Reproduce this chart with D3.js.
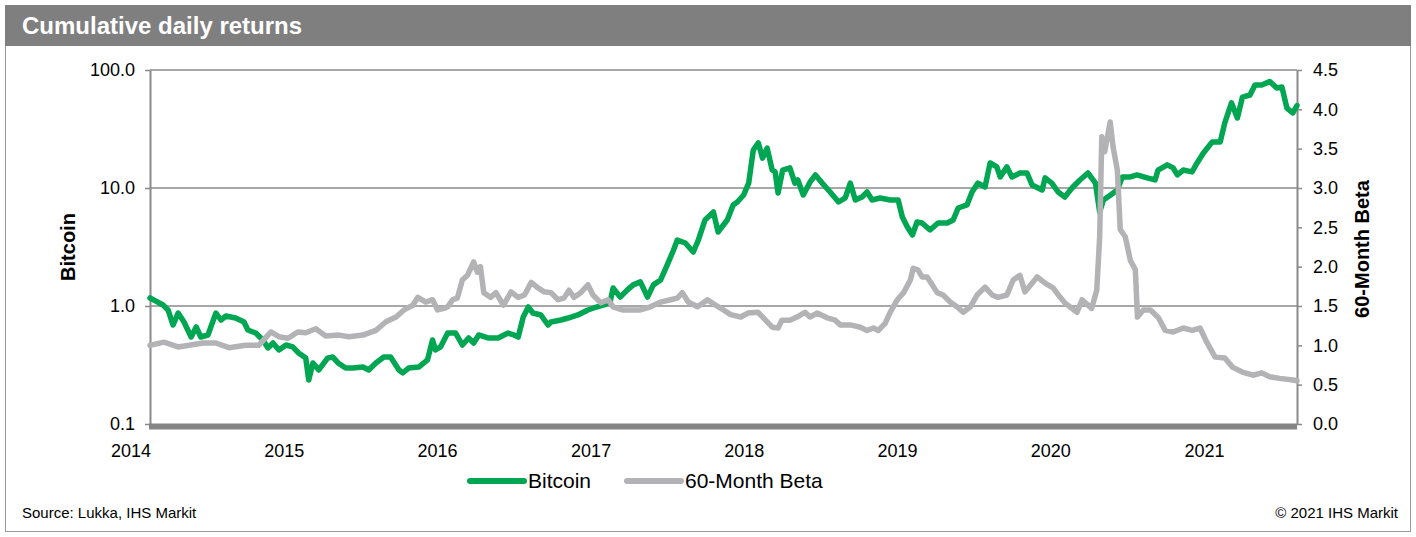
<!DOCTYPE html>
<html>
<head>
<meta charset="utf-8">
<script src="https://cdn.jsdelivr.net/npm/d3@7"></script>
<style>
body { margin: 0; background: #fff; font-family: "Liberation Sans", Arial, sans-serif; }
</style>
</head>
<body>
<div id="chart"></div>
<script>
// Bitcoin cumulative return (left, log axis)
const btcDates = [
  "2014-01-01","2014-01-15","2014-02-01","2014-02-13","2014-02-25","2014-03-09","2014-03-23","2014-04-09","2014-04-21","2014-05-02",
  "2014-05-19","2014-06-07","2014-06-19","2014-07-01","2014-07-24","2014-08-13","2014-08-22","2014-09-10","2014-09-27","2014-10-09",
  "2014-10-21","2014-11-04","2014-11-21","2014-12-07","2014-12-21","2015-01-07","2015-01-14","2015-01-24","2015-02-07","2015-02-28",
  "2015-03-12","2015-03-25","2015-04-12","2015-04-29","2015-05-23","2015-06-06","2015-06-23","2015-07-12","2015-07-28","2015-08-17",
  "2015-08-26","2015-09-09","2015-10-03","2015-10-24","2015-11-05","2015-11-12","2015-11-24","2015-12-11","2015-12-30","2016-01-15",
  "2016-01-30","2016-02-11","2016-02-23","2016-03-16","2016-04-09","2016-05-03","2016-05-17","2016-05-27","2016-06-08","2016-06-20",
  "2016-07-01","2016-07-20","2016-08-06","2016-08-13","2016-09-06","2016-09-23","2016-10-16","2016-11-09","2016-11-23","2016-12-17",
  "2017-01-01","2017-01-08","2017-01-25","2017-02-11","2017-02-25","2017-03-14","2017-03-31","2017-04-14","2017-05-01","2017-05-17",
  "2017-06-01","2017-06-10","2017-06-29","2017-07-18","2017-07-30","2017-08-15","2017-09-04","2017-09-15","2017-10-07","2017-10-21",
  "2017-10-31","2017-11-15","2017-11-27","2017-12-08","2017-12-20","2017-12-30","2018-01-10","2018-01-22","2018-01-29","2018-02-05",
  "2018-02-16","2018-03-05","2018-03-17","2018-03-24","2018-04-06","2018-04-22","2018-05-05","2018-05-21","2018-06-09","2018-06-29",
  "2018-07-15","2018-07-27","2018-08-08","2018-08-24","2018-09-05","2018-09-17","2018-10-06","2018-10-30","2018-11-18","2018-11-28",
  "2018-12-10","2018-12-22","2019-01-02","2019-01-14","2019-02-02","2019-02-21","2019-03-15","2019-03-29","2019-04-10","2019-05-01",
  "2019-05-13","2019-05-27","2019-06-13","2019-06-25","2019-07-11","2019-07-19","2019-08-04","2019-08-16","2019-09-04","2019-09-21",
  "2019-10-03","2019-10-27","2019-11-03","2019-11-19","2019-12-04","2019-12-20","2020-01-06","2020-01-25","2020-02-13","2020-03-02",
  "2020-03-12","2020-03-21","2020-04-07","2020-04-23","2020-05-05","2020-05-24","2020-06-09","2020-07-03","2020-07-22","2020-07-29",
  "2020-08-20","2020-09-03","2020-09-13","2020-09-27","2020-10-18","2020-10-30","2020-11-14","2020-12-05","2020-12-24","2021-01-04",
  "2021-01-20","2021-02-03","2021-02-15","2021-03-05","2021-03-17","2021-04-02","2021-04-21","2021-05-08","2021-05-20","2021-06-01",
  "2021-06-15","2021-06-25"
];
const btcValues = [
  1.17, 1.10, 1.02, 0.925, 0.69, 0.872, 0.732, 0.546, 0.664, 0.546,
  0.568, 0.872, 0.761, 0.823, 0.791, 0.732, 0.626, 0.590, 0.515, 0.441,
  0.486, 0.424, 0.467, 0.450, 0.400, 0.362, 0.236, 0.329, 0.287, 0.362,
  0.370, 0.329, 0.298, 0.298, 0.304, 0.287, 0.329, 0.370, 0.370, 0.287,
  0.271, 0.298, 0.304, 0.349, 0.515, 0.424, 0.450, 0.590, 0.590, 0.467,
  0.536, 0.486, 0.568, 0.536, 0.536, 0.590, 0.568, 0.546, 0.807, 0.981,
  0.872, 0.839, 0.690, 0.732, 0.761, 0.791, 0.839, 0.925, 0.962, 1.02,
  1.08, 1.42, 1.19, 1.37, 1.51, 1.60, 1.19, 1.51, 1.66, 2.23,
  2.98, 3.62, 3.42, 2.87, 3.62, 5.36, 6.26, 4.24, 5.36, 7.18,
  7.61, 8.72, 11.0, 21.0, 24.1, 17.9, 21.8, 14.2, 13.7, 9.07,
  14.2, 14.8, 11.0, 11.7, 8.72, 11.2, 12.9, 11.0, 9.25, 7.61,
  8.23, 11.0, 7.91, 8.39, 9.25, 7.91, 8.23, 7.91, 7.91, 5.68,
  4.67, 4.00, 5.15, 5.05, 4.41, 5.05, 5.05, 5.36, 6.77, 7.18,
  9.25, 11.0, 10.2, 16.3, 15.1, 12.4, 15.1, 12.4, 13.4, 13.4,
  10.6, 9.62, 12.2, 11.0, 9.25, 8.39, 10.0, 11.7, 13.4, 11.0,
  6.26, 7.91, 8.72, 9.62, 12.4, 12.4, 12.9, 12.2, 11.7, 14.2,
  15.7, 14.8, 12.9, 14.2, 13.7, 16.3, 19.8, 24.5, 24.5, 35.6,
  52.6, 39.2, 59.0, 61.4, 74.6, 74.6, 80.0, 70.3, 71.8, 47.6,
  43.2, 50.0
];

// 60-month beta (right axis)
const betaDates = [
  "2014-01-01","2014-02-03","2014-03-09","2014-04-04","2014-05-07","2014-06-07","2014-07-08","2014-08-17","2014-09-17","2014-10-16",
  "2014-11-04","2014-11-26","2014-12-19","2015-01-07","2015-01-31","2015-02-23","2015-03-27","2015-04-20","2015-05-23","2015-06-23",
  "2015-07-17","2015-08-10","2015-08-29","2015-09-19","2015-10-01","2015-10-20","2015-11-05","2015-11-17","2015-12-02","2015-12-11",
  "2015-12-23","2016-01-03","2016-01-15","2016-01-27","2016-02-11","2016-02-20","2016-02-27","2016-03-06","2016-03-22","2016-04-04",
  "2016-04-22","2016-05-10","2016-05-27","2016-06-11","2016-06-27","2016-07-13","2016-07-28","2016-08-13","2016-08-30","2016-09-13",
  "2016-09-25","2016-10-07","2016-10-23","2016-11-09","2016-11-21","2016-12-10","2016-12-27","2017-01-08","2017-01-30","2017-02-18",
  "2017-03-14","2017-04-07","2017-05-01","2017-05-25","2017-06-10","2017-06-22","2017-07-06","2017-07-28","2017-08-21","2017-09-09",
  "2017-09-28","2017-10-15","2017-11-08","2017-11-25","2017-12-19","2018-01-01","2018-01-22","2018-02-05","2018-02-14","2018-03-05",
  "2018-03-22","2018-04-10","2018-04-22","2018-05-09","2018-06-02","2018-06-21","2018-07-03","2018-07-27","2018-08-20","2018-09-05",
  "2018-09-20","2018-10-02","2018-10-18","2018-10-30","2018-11-16","2018-12-01","2018-12-17","2018-12-24","2019-01-04","2019-01-14",
  "2019-01-26","2019-02-07","2019-02-19","2019-03-05","2019-03-22","2019-04-07","2019-04-22","2019-05-09","2019-05-25","2019-06-13",
  "2019-06-30","2019-07-14","2019-08-04","2019-08-19","2019-09-04","2019-09-16","2019-10-03","2019-10-15","2019-11-03","2019-11-22",
  "2019-12-09","2019-12-20","2020-01-18","2020-01-30","2020-02-22","2020-03-05","2020-03-12","2020-03-17","2020-03-24","2020-04-06",
  "2020-04-13","2020-04-23","2020-04-30","2020-05-12","2020-05-24","2020-06-05","2020-06-10","2020-06-24","2020-07-11","2020-07-30",
  "2020-08-15","2020-09-03","2020-09-27","2020-10-18","2020-11-06","2020-11-23","2020-12-12","2021-01-04","2021-01-23","2021-02-15",
  "2021-03-12","2021-04-02","2021-04-21","2021-05-15","2021-06-15","2021-06-25"
];
const betaValues = [
  1.00, 1.04, 0.98, 1.00, 1.03, 1.03, 0.97, 1.00, 1.00, 1.17,
  1.11, 1.09, 1.17, 1.16, 1.21, 1.12, 1.13, 1.11, 1.13, 1.19,
  1.30, 1.36, 1.45, 1.51, 1.61, 1.55, 1.58, 1.45, 1.47, 1.49,
  1.58, 1.60, 1.83, 1.89, 2.06, 1.93, 2.00, 1.67, 1.61, 1.67,
  1.51, 1.68, 1.61, 1.64, 1.80, 1.73, 1.68, 1.67, 1.58, 1.60,
  1.70, 1.61, 1.67, 1.77, 1.64, 1.54, 1.58, 1.49, 1.45, 1.45,
  1.45, 1.49, 1.55, 1.58, 1.60, 1.67, 1.55, 1.49, 1.58, 1.51,
  1.45, 1.39, 1.36, 1.41, 1.42, 1.35, 1.23, 1.22, 1.32, 1.32,
  1.36, 1.42, 1.36, 1.41, 1.35, 1.32, 1.26, 1.26, 1.23, 1.19,
  1.22, 1.19, 1.28, 1.42, 1.58, 1.67, 1.83, 1.98, 1.96, 1.87,
  1.87, 1.77, 1.67, 1.64, 1.55, 1.49, 1.42, 1.49, 1.64, 1.74,
  1.64, 1.61, 1.64, 1.83, 1.89, 1.68, 1.79, 1.87, 1.79, 1.73,
  1.61, 1.54, 1.42, 1.58, 1.47, 1.70, 2.38, 3.65, 3.46, 3.84,
  3.52, 3.23, 2.47, 2.38, 2.08, 1.96, 1.36, 1.45, 1.45, 1.35,
  1.19, 1.17, 1.22, 1.19, 1.22, 1.03, 0.85, 0.84, 0.72, 0.66,
  0.62, 0.65, 0.60, 0.58, 0.56, 0.55
];

const leftTicks = [0.1, 1, 10, 100];
const rightTicks = [0, 0.5, 1, 1.5, 2, 2.5, 3, 3.5, 4, 4.5];
const yearLabels = ["2014", "2015", "2016", "2017", "2018", "2019", "2020", "2021"];
const seriesNames = ["Bitcoin", "60-Month Beta"];

const width = 1416, height = 537;
const margin = ({top: 70, right: 119, bottom: 113, left: 150});
const plotRight = width - margin.right;
const plotBottom = height - margin.bottom;

const green = "#00a651", grey = "#b3b3b6", axisGrey = "#8a8a8a";
const parse = d3.timeParse("%Y-%m-%d");

const btc = btcDates.map((d, i) => ({date: parse(d), v: btcValues[i]}));
const beta = betaDates.map((d, i) => ({date: parse(d), v: betaValues[i]}));

const xScale = d3.scaleTime()
  .domain([parse("2014-01-01"), parse("2021-06-25")])
  .range([margin.left, plotRight]);
const yLeft = d3.scaleLog().domain([0.1, 100]).range([plotBottom, margin.top]);
const yRight = d3.scaleLinear().domain([0, 4.5]).range([plotBottom, margin.top]);

const svg = d3.select("#chart").append("svg")
  .attr("width", width)
  .attr("height", height);

// frame + title bar
svg.append("rect")
  .attr("x", 5.5).attr("y", 5.5).attr("width", 1405).attr("height", 526)
  .attr("fill", "none").attr("stroke", "#9a9a9a");
svg.append("rect")
  .attr("x", 5).attr("y", 5).attr("width", 1406).attr("height", 41)
  .attr("fill", "#7f7f7f");
svg.append("text")
  .attr("x", 22).attr("y", 34)
  .attr("fill", "#fff")
  .attr("font-size", 24).attr("font-weight", "bold")
  .text("Cumulative daily returns");

// gridlines
svg.append("g")
  .selectAll("line")
  .data(leftTicks.filter(d => d > 0.1))
  .join("line")
  .attr("x1", margin.left).attr("x2", plotRight)
  .attr("y1", d => yLeft(d)).attr("y2", d => yLeft(d))
  .attr("stroke", axisGrey).attr("stroke-width", 1.5);

// left axis
const gLeft = svg.append("g")
  .attr("transform", `translate(${margin.left},0)`)
  .call(d3.axisLeft(yLeft).tickValues(leftTicks).tickFormat(d3.format(".1f"))
    .tickSize(5).tickSizeOuter(0).tickPadding(10));

// right axis
const gRight = svg.append("g")
  .attr("transform", `translate(${plotRight},0)`)
  .call(d3.axisRight(yRight).tickValues(rightTicks).tickFormat(d3.format(".1f"))
    .tickSize(5).tickSizeOuter(0).tickPadding(11));

[gLeft, gRight].forEach(g => {
  g.select(".domain").attr("stroke", axisGrey).attr("stroke-width", 2);
  g.selectAll(".tick line").attr("stroke", axisGrey).attr("stroke-width", 1.5);
  g.selectAll(".tick text")
    .attr("fill", "#000")
    .attr("font-size", 18)
    .attr("font-family", "Liberation Sans, Arial, sans-serif");
});

// thick bottom axis bar
svg.append("rect")
  .attr("x", margin.left - 1).attr("y", plotBottom - 0.5)
  .attr("width", plotRight - margin.left + 1).attr("height", 6)
  .attr("fill", "#858585");

// year labels, right-aligned on 1 January
svg.append("g")
  .selectAll("text")
  .data(yearLabels)
  .join("text")
  .attr("x", d => xScale(parse(d + "-01-01")) + 1)
  .attr("y", 457)
  .attr("text-anchor", "end")
  .attr("font-size", 18)
  .text(d => d);

// axis titles
svg.append("text")
  .attr("transform", "translate(75,247) rotate(-90)")
  .attr("text-anchor", "middle")
  .attr("font-size", 20).attr("font-weight", "bold")
  .text("Bitcoin");
svg.append("text")
  .attr("transform", "translate(1369,249) rotate(-90)")
  .attr("text-anchor", "middle")
  .attr("font-size", 20).attr("font-weight", "bold")
  .text("60-Month Beta");

// lines
const btcLine = d3.line().x(d => xScale(d.date)).y(d => yLeft(d.v));
const betaLine = d3.line().x(d => xScale(d.date)).y(d => yRight(d.v));

svg.append("path")
  .attr("d", btcLine(btc))
  .attr("fill", "none").attr("stroke", green)
  .attr("stroke-width", 5.5).attr("stroke-linejoin", "round").attr("stroke-linecap", "round");
svg.append("path")
  .attr("d", betaLine(beta))
  .attr("fill", "none").attr("stroke", grey)
  .attr("stroke-width", 5.5).attr("stroke-linejoin", "round").attr("stroke-linecap", "round");

// legend
const legend = svg.append("g").attr("transform", "translate(0,481)");
const legendX = [470, 627];
[green, grey].forEach((c, i) => {
  legend.append("line")
    .attr("x1", legendX[i]).attr("x2", legendX[i] + 54)
    .attr("stroke", c).attr("stroke-width", 6).attr("stroke-linecap", "round");
  legend.append("text")
    .attr("x", legendX[i] + 58).attr("y", 7)
    .attr("font-size", 21)
    .text(seriesNames[i]);
});

// footer
svg.append("text")
  .attr("x", 22).attr("y", 518)
  .attr("font-size", 15)
  .text("Source: Lukka, IHS Markit");
svg.append("text")
  .attr("x", 1398).attr("y", 518)
  .attr("text-anchor", "end")
  .attr("font-size", 15)
  .text("\u00a9 2021 IHS Markit");
</script>
</body>
</html>
